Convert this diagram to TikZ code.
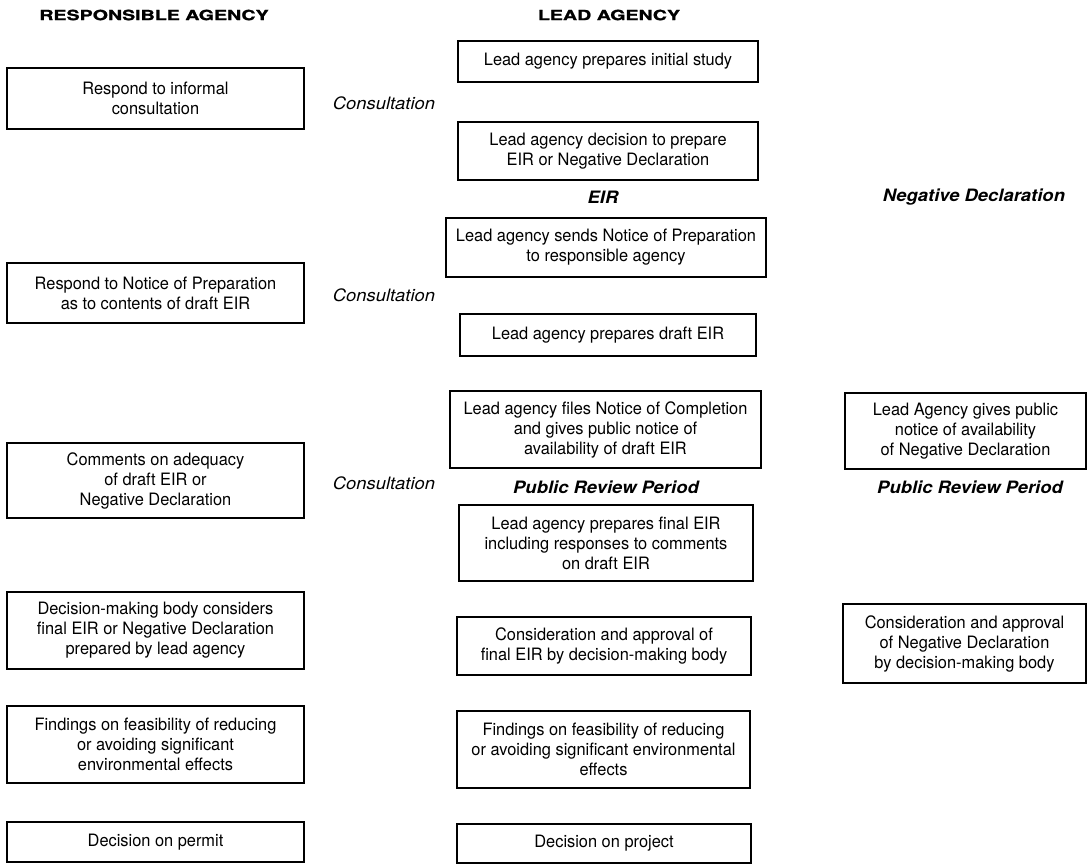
\documentclass[tikz,border=0pt]{standalone}
\usepackage{fontspec}
\setmainfont[FakeStretch=0.96]{TeX Gyre Heros}
\newfontfamily\titlefont[FakeStretch=1.4,FakeBold=1.5]{TeX Gyre Heros}
\newfontfamily\labelfont[FakeStretch=1.08]{TeX Gyre Heros}
\begin{document}
\begin{tikzpicture}[x=0.75pt,y=-0.75pt,
  bx/.style={draw, line width=1.1pt, align=center, inner sep=2pt,
    font=\fontsize{12.8}{15}\selectfont},
  ttl/.style={font=\titlefont\bfseries\fontsize{10.5}{12}\selectfont, inner sep=0pt},
  cons/.style={font=\labelfont\itshape\fontsize{12.8}{15}\selectfont, inner sep=0pt},
  branch/.style={font=\labelfont\bfseries\itshape\fontsize{12.8}{15}\selectfont, inner sep=0pt}]
\useasboundingbox (0,0) rectangle (1088,865);
% titles
\node[ttl] (tresp) at (154,15) {RESPONSIBLE AGENCY};
\node[ttl] (tlead) at (609,15) {LEAD AGENCY};
% left column
\node[bx, minimum width=222.75pt, minimum height=45.75pt] (l1) at (155.5,98.5) {Respond to informal\\consultation};
\node[bx, minimum width=222.75pt, minimum height=45pt] (l2) at (155.5,293) {Respond to Notice of Preparation\\as to contents of draft EIR};
\node[bx, minimum width=222.75pt, minimum height=56.25pt] (l3) at (155.5,480.5) {Comments on adequacy\\of draft EIR or\\Negative Declaration};
\node[bx, minimum width=222.75pt, minimum height=57.75pt] (l4) at (155.5,630.5) {Decision-making body considers\\final EIR or Negative Declaration\\prepared by lead agency};
\node[bx, minimum width=222.75pt, minimum height=57.75pt] (l5) at (155.5,744.5) {Findings on feasibility of reducing\\or avoiding significant\\environmental effects};
\node[bx, minimum width=222.75pt, minimum height=30pt] (l6) at (155.5,842) {Decision on permit};
% consultation labels
\node[cons] (c1) at (384,103) {Consultation};
\node[cons] (c2) at (384,295) {Consultation};
\node[cons] (c3) at (384,483) {Consultation};
% middle column
\node[bx, minimum width=225pt, minimum height=30.75pt] (m1) at (608,61.5) {Lead agency prepares initial study};
\node[bx, minimum width=225pt, minimum height=43.5pt] (m2) at (608,151) {Lead agency decision to prepare\\EIR or Negative Declaration};
\node[branch] (eir) at (603,197) {EIR};
\node[branch] (nd) at (974,197) {Negative Declaration};
\node[bx, minimum width=240pt, minimum height=44.25pt] (m3) at (606,247.5) {Lead agency sends Notice of Preparation\\to responsible agency};
\node[bx, minimum width=222pt, minimum height=31.5pt] (m4) at (608,335) {Lead agency prepares draft EIR};
\node[bx, minimum width=233.25pt, minimum height=57.75pt] (m5) at (605.5,429.5) {Lead agency files Notice of Completion\\and gives public notice of\\availability of draft EIR};
\node[branch] (prp1) at (606,487) {Public Review Period};
\node[bx, minimum width=220.5pt, minimum height=57pt] (m6) at (606,543) {Lead agency prepares final EIR\\including responses to comments\\on draft EIR};
\node[bx, minimum width=220.5pt, minimum height=43.5pt] (m7) at (604,646) {Consideration and approval of\\final EIR by decision-making body};
\node[bx, minimum width=219.75pt, minimum height=57.75pt] (m8) at (603.5,749.5) {Findings on feasibility of reducing\\or avoiding significant environmental\\effects};
\node[bx, minimum width=220.5pt, minimum height=29.25pt] (m9) at (604,843.5) {Decision on project};
% right column
\node[bx, minimum width=180.75pt, minimum height=57pt] (r1) at (965.5,431) {Lead Agency gives public\\notice of availability\\of Negative Declaration};
\node[branch] (prp2) at (970,487) {Public Review Period};
\node[bx, minimum width=182.25pt, minimum height=59.25pt] (r2) at (964.5,643.5) {Consideration and approval\\of Negative Declaration\\by decision-making body};
\end{tikzpicture}
\end{document}
